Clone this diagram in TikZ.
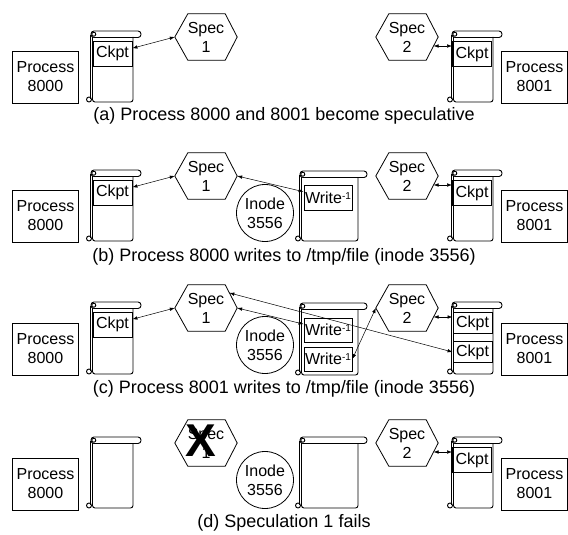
\documentclass[tikz,border=0pt]{standalone}
\usepackage{fontspec}
\setmainfont{Liberation Sans}
\usetikzlibrary{arrows.meta,calc}

\tikzset{
  lbl/.style={font=\fontsize{16}{19}\selectfont},
  proc/.style={lbl, draw, line width=0.8pt, minimum width=66pt, minimum height=52pt, inner sep=0pt, align=center},
  ckbox/.style={lbl, draw, line width=0.8pt, minimum width=39pt, minimum height=25pt, inner sep=0pt},
  wrbox/.style={lbl, draw, line width=0.8pt, minimum width=48pt, minimum height=25pt, inner sep=0pt},
  hexbox/.style={lbl, minimum width=62pt, minimum height=46pt, inner sep=0pt, align=center},
  inode/.style={lbl, draw, circle, line width=0.8pt, minimum size=57pt, inner sep=0pt, align=center},
  link/.style={{Latex[length=5pt,width=3.5pt]}-{Latex[length=5pt,width=3.5pt]}, line width=0.5pt},
  scrl/.style={line width=0.9pt},
  captxt/.style={font=\fontsize{18}{21}\selectfont},
}

% hexagon outline from a rectangular node
\newcommand\drawhex[1]{%
  \draw[line width=0.8pt] (#1.west) -- ($(#1.north west)+(13,0)$) -- ($(#1.north east)+(-12,0)$)
    -- (#1.east) -- ($(#1.south east)+(-12,0)$) -- ($(#1.south west)+(13,0)$) -- cycle;}

% scroll: #1 left, #2 top, #3 right, #4 bottom, #5 roll right end
\newcommand\myscroll[5]{%
  \draw[scrl] (#1,#2+4) -- (#1,#4-3);
  \draw[scrl, rounded corners=2.5] (#1+2.5,#2+6) -- (#1+2.5,#4) -- (#3,#4) -- (#3,#2+6);
  \draw[scrl] (#1-1,#4-2.5) circle (2.5);
  \draw[scrl, rounded corners=3] (#1+1,#2) rectangle (#5,#2+6.5);
  \draw[scrl] (#1+3.8,#2+3.2) circle (2);
}

\newcommand\wrtext{Write\raisebox{0.45ex}{\fontsize{10}{10}\selectfont -1}}

\begin{document}
\begin{tikzpicture}[x=1pt,y=-1pt]
\useasboundingbox (0,0) rectangle (568,535);

%%%%%%%%%%%% (a)
\node[proc] (procA1) at (45.5,77) {Process\\8000};
\myscroll{90}{31}{133}{102}{141}
\node[ckbox] (ckA1) at (112.5,53.5) {Ckpt};
\node[hexbox] (spA1) at (206,37) {Spec\\1};
\drawhex{spA1}
\node[hexbox] (spA2) at (407,37) {Spec\\2};
\drawhex{spA2}
\myscroll{451}{31}{493}{102}{502}
\node[ckbox] (ckA2) at (472,54) {Ckpt};
\node[proc] (procA2) at (534.5,77) {Process\\8001};
\node[captxt] (capA) at (284,116) {(a) Process 8000 and 8001 become speculative};
\draw[link] (ckA1) -- (spA1.west);
\coordinate (pA2) at ($(spA2.east)+(-4.7,9)$);
\draw[link] (pA2) -- (pA2 -| ckA2.west);

%%%%%%%%%%%% (b)
\node[proc] (procB1) at (45.5,216) {Process\\8000};
\myscroll{90}{170}{133}{241}{141}
\node[ckbox] (ckB1) at (112.5,192.5) {Ckpt};
\node[hexbox] (spB1) at (206,176) {Spec\\1};
\drawhex{spB1}
\node[inode] (inB) at (265,213) {Inode\\3556};
\myscroll{299}{171}{358}{241}{367}
\node[wrbox] (wrB) at (328,197.5) {\wrtext};
\node[hexbox] (spB2) at (407,176) {Spec\\2};
\drawhex{spB2}
\myscroll{451}{170}{493}{241}{502}
\node[ckbox] (ckB2) at (472,193) {Ckpt};
\node[proc] (procB2) at (534.5,216) {Process\\8001};
\node[captxt] (capB) at (284,257) {(b) Process 8000 writes to /tmp/file (inode 3556)};
\draw[link] (ckB1) -- (spB1.west);
\draw[link] (wrB) -- (spB1.east);
\coordinate (pB2) at ($(spB2.east)+(-4.7,9)$);
\draw[link] (pB2) -- (pB2 -| ckB2.west);

%%%%%%%%%%%% (c)
\node[proc] (procC1) at (45.5,349) {Process\\8000};
\myscroll{90}{302}{133}{374}{141}
\node[ckbox] (ckC1) at (112.5,324.5) {Ckpt};
\node[hexbox] (spC1) at (206,308) {Spec\\1};
\drawhex{spC1}
\node[inode] (inC) at (265,345) {Inode\\3556};
\myscroll{299}{303}{358}{375}{367}
\node[wrbox, minimum height=24pt] (wrC1) at (328,330) {\wrtext};
\node[wrbox, minimum height=24pt] (wrC2) at (328,359) {\wrtext};
\node[hexbox] (spC2) at (407,308) {Spec\\2};
\drawhex{spC2}
\myscroll{451}{302}{493}{374}{502}
\node[ckbox, minimum height=21pt] (ckC2a) at (472.5,323) {Ckpt};
\node[ckbox, minimum height=21pt] (ckC2b) at (472.5,352) {Ckpt};
\node[proc] (procC2) at (534.5,349) {Process\\8001};
\node[captxt] (capC) at (284,389) {(c) Process 8001 writes to /tmp/file (inode 3556)};
\draw[link] (ckC1) -- (spC1.west);
\draw[link] (wrC1) -- (spC1.east);
\coordinate (c1tr) at ($(spC1.north east)+(-12,0)$);
\coordinate (c1p) at ($(c1tr)!0.35!(spC1.east)$);
\draw[link] (c1p) -- (ckC2b.west);
\draw[link] (wrC2.east) -- (spC2.west);
\coordinate (pC2) at ($(spC2.east)+(-4.7,9)$);
\draw[link] (pC2) -- (pC2 -| ckC2a.west);

%%%%%%%%%%%% (d)
\node[proc] (procD1) at (45.5,484) {Process\\8000};
\myscroll{90}{437}{133}{508}{141}
\node[hexbox] (spD1) at (206,443) {Spec\\1};
\drawhex{spD1}
\node[font=\fontsize{46}{46}\selectfont\bfseries, inner sep=0pt] (xD) at (201,441) {X};
\node[inode] (inD) at (265,480) {Inode\\3556};
\myscroll{299}{437}{358}{508}{367}
\node[hexbox] (spD2) at (407,443) {Spec\\2};
\drawhex{spD2}
\myscroll{451}{437}{493}{508}{502}
\node[ckbox] (ckD2) at (472,460) {Ckpt};
\node[proc] (procD2) at (534.5,484) {Process\\8001};
\node[captxt] (capD) at (284,523) {(d) Speculation 1 fails};
\coordinate (pD2) at ($(spD2.east)+(-4.7,9)$);
\draw[link] (pD2) -- (pD2 -| ckD2.west);

\end{tikzpicture}
\end{document}
